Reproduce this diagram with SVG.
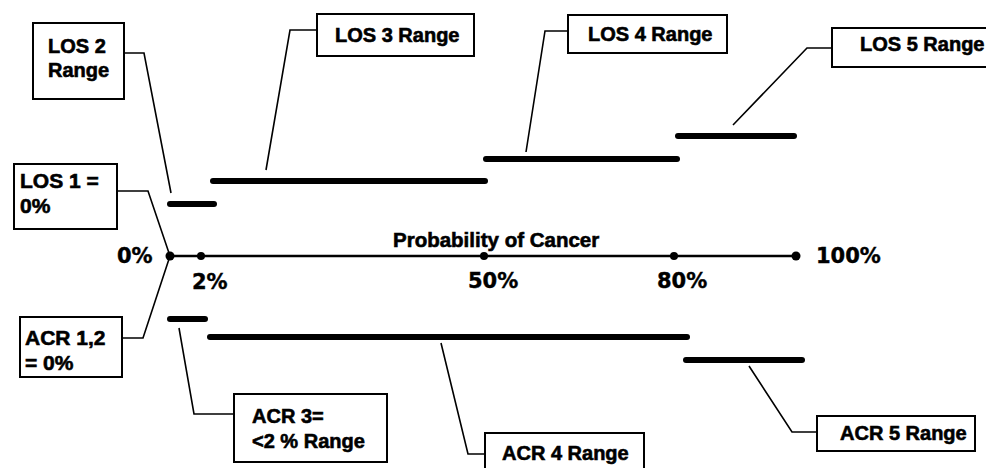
<svg xmlns="http://www.w3.org/2000/svg" width="986" height="468" viewBox="0 0 986 468">
<style>
.box{fill:#fff;stroke:#000;stroke-width:2}
.lbl{font-family:"Liberation Sans",Arial,sans-serif;font-weight:bold;font-size:20px;fill:#000;stroke:#000;stroke-width:0.6}
.pct{font-family:"DejaVu Sans",sans-serif;font-weight:bold;font-size:21px;fill:#000;stroke:#000;stroke-width:0.4}
.bar{stroke:#000;stroke-width:6;stroke-linecap:round}
.lead{fill:none;stroke:#000;stroke-width:1.6}
.axis{stroke:#000;stroke-width:2.5}
</style>
<rect width="986" height="468" fill="#fff"/>
<g id="axis">
<line class="axis" x1="170" y1="256" x2="796" y2="256"/>
<circle cx="170" cy="256" r="4.5"/>
<circle cx="201" cy="256" r="4"/>
<circle cx="484" cy="256" r="4"/>
<circle cx="674" cy="256" r="4"/>
<circle cx="796" cy="256" r="4.5"/>
<text class="lbl" x="393" y="247" style="font-size:20.5px">Probability of Cancer</text>
<text class="pct" x="117" y="263">0%</text>
<text class="pct" x="192" y="289">2%</text>
<text class="pct" x="468" y="288">50%</text>
<text class="pct" x="657" y="288">80%</text>
<text class="pct" x="816" y="263">100%</text>
</g>
<g id="ranges">
<line class="bar" x1="170" y1="204" x2="214" y2="204"/>
<line class="bar" x1="213" y1="181" x2="485" y2="181"/>
<line class="bar" x1="486" y1="159" x2="677" y2="159"/>
<line class="bar" x1="678" y1="136" x2="794" y2="136"/>
<line class="bar" x1="170" y1="319" x2="205" y2="319"/>
<line class="bar" x1="210" y1="337" x2="687" y2="337"/>
<line class="bar" x1="686" y1="360" x2="802" y2="360"/>
</g>
<g id="connectors">
<path class="lead" d="M117,191 H148 L170,256"/>
<path class="lead" d="M124,53 H144 L171,193"/>
<path class="lead" d="M317,30 H290 L266,170"/>
<path class="lead" d="M568,31 H545 L526,152"/>
<path class="lead" d="M832,48 H807 L733,125"/>
<path class="lead" d="M122,338 H143 L170,256"/>
<path class="lead" d="M179,328 L194,414 H234"/>
<path class="lead" d="M441,343 L468,454 H485"/>
<path class="lead" d="M749,366 L792,432 H817"/>
</g>
<g id="los1">
<rect class="box" x="14" y="164" width="103" height="65"/>
<text class="lbl" x="20" y="188" style="font-size:21px">LOS 1 =</text>
<text class="lbl" x="20" y="213" style="font-size:21px">0%</text>
</g>
<g id="los2">
<rect class="box" x="33" y="23" width="91" height="76"/>
<text class="lbl" x="48" y="53">LOS 2</text>
<text class="lbl" x="48" y="77">Range</text>
</g>
<g id="los3">
<rect class="box" x="317" y="14" width="157" height="42"/>
<text class="lbl" x="335" y="42">LOS 3 Range</text>
</g>
<g id="los4">
<rect class="box" x="568" y="15" width="159" height="38"/>
<text class="lbl" x="588" y="41">LOS 4 Range</text>
</g>
<g id="los5">
<rect class="box" x="832" y="28" width="160" height="39"/>
<text class="lbl" x="860" y="51">LOS 5 Range</text>
</g>
<g id="acr12">
<rect class="box" x="20" y="317" width="102" height="60"/>
<text class="lbl" x="25" y="345" style="font-size:21px">ACR 1,2</text>
<text class="lbl" x="25" y="370" style="font-size:21px">= 0%</text>
</g>
<g id="acr3">
<rect class="box" x="234" y="394" width="153" height="68"/>
<text class="lbl" x="252" y="423">ACR 3=</text>
<text class="lbl" x="252" y="448">&lt;2 % Range</text>
</g>
<g id="acr4">
<rect class="box" x="485" y="433" width="159" height="40"/>
<text class="lbl" x="502" y="460">ACR 4 Range</text>
</g>
<g id="acr5">
<rect class="box" x="817" y="416" width="158" height="35"/>
<text class="lbl" x="840" y="440">ACR 5 Range</text>
</g>
</svg>
